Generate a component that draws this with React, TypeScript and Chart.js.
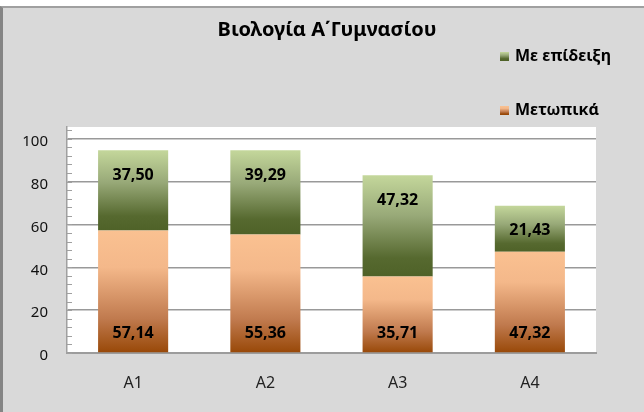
import React, { useEffect, useRef } from "react";
import { Chart, registerables } from "chart.js";

Chart.register(...registerables);

const categories = ["A1", "A2", "A3", "A4"];
const frontalValues = [57.14, 55.36, 35.71, 47.32];
const demoValues = [37.5, 39.29, 47.32, 21.43];
const seriesNames = ["Μετωπικά", "Με επίδειξη"];
const yMajorTicks = [0, 20, 40, 60, 80, 100];
const titleText = "Βιολογία Α΄Γυμνασίου";

const FONT = "'Noto Sans', sans-serif";
const orangeStops: [number, string][] = [
  [0, "#fac191"],
  [0.3, "#f4b88a"],
  [0.72, "#c07a4e"],
  [1, "#984807"],
];
const greenStops: [number, string][] = [
  [0, "#c4d79b"],
  [0.4, "#98a978"],
  [0.82, "#56692f"],
  [1, "#4f6228"],
];

function makeGrad(ctx: CanvasRenderingContext2D, y0: number, y1: number, stops: [number, string][]) {
  const g = ctx.createLinearGradient(0, y0, 0, y1);
  stops.forEach(([o, c]) => g.addColorStop(o, c));
  return g;
}

function barGradient(stops: [number, string][]) {
  return (c: any) => {
    const chart = c.chart;
    if (!chart.chartArea || c.type !== "data" || !chart.scales.y) return stops[0][1];
    const di = c.datasetIndex;
    const i = c.dataIndex;
    let start = 0;
    for (let d = 0; d < di; d++) start += chart.data.datasets[d].data[i] as number;
    const end = start + (chart.data.datasets[di].data[i] as number);
    const yTop = chart.scales.y.getPixelForValue(end);
    const yBot = chart.scales.y.getPixelForValue(start);
    return makeGrad(chart.ctx, yTop, yBot, stops);
  };
}

const decorPlugin = {
  id: "decor",
  beforeDraw(chart: any) {
    const { ctx, chartArea } = chart;
    ctx.save();
    ctx.fillStyle = "#ffffff";
    ctx.fillRect(chartArea.left, chartArea.top, chartArea.right - chartArea.left, chartArea.bottom - chartArea.top);
    ctx.restore();
  },
  afterDraw(chart: any) {
    const { ctx, chartArea } = chart;
    const y = chart.scales.y;
    ctx.save();
    // minor inner ticks
    ctx.strokeStyle = "#a0a0a0";
    ctx.lineWidth = 1;
    for (let v = 0; v <= 104; v += 4) {
      const py = Math.round(y.getPixelForValue(v)) + 0.5;
      ctx.beginPath();
      ctx.moveTo(chartArea.left, py);
      ctx.lineTo(chartArea.left + 5, py);
      ctx.stroke();
    }
    // title
    ctx.fillStyle = "#000";
    ctx.font = `bold 20px ${FONT}`;
    ctx.textAlign = "center";
    ctx.textBaseline = "middle";
    ctx.fillText(titleText, 327, 30);
    // legend
    const legendItems = [
      { name: seriesNames[1], stops: greenStops, y: 56 },
      { name: seriesNames[0], stops: orangeStops, y: 110 },
    ];
    legendItems.forEach((it) => {
      ctx.fillStyle = makeGrad(ctx, it.y - 4, it.y + 4, it.stops);
      ctx.fillRect(500, it.y - 4, 9, 9);
      ctx.fillStyle = "#000";
      ctx.font = `bold 16px ${FONT}`;
      ctx.textAlign = "left";
      ctx.textBaseline = "middle";
      ctx.fillText(it.name, 515, it.y);
    });
    // data labels
    ctx.font = `bold 16px ${FONT}`;
    ctx.textAlign = "center";
    ctx.textBaseline = "middle";
    ctx.fillStyle = "#000";
    chart.data.datasets.forEach((ds: any, di: number) => {
      const meta = chart.getDatasetMeta(di);
      meta.data.forEach((el: any, i: number) => {
        const txt = (ds.data[i] as number).toFixed(2).replace(".", ",");
        const ly = di === 0 ? el.base - 19 : el.y + 25;
        ctx.fillText(txt, el.x, ly);
      });
    });
    ctx.restore();
  },
};

export default function App() {
  const ref = useRef<HTMLCanvasElement | null>(null);
  useEffect(() => {
    if (!ref.current) return;
    const chart = new Chart(ref.current, {
      type: "bar",
      data: {
        labels: categories,
        datasets: [
          {
            label: seriesNames[0],
            data: frontalValues,
            backgroundColor: barGradient(orangeStops),
            borderWidth: 0,
            categoryPercentage: 1,
            barPercentage: 0.53,
          },
          {
            label: seriesNames[1],
            data: demoValues,
            backgroundColor: barGradient(greenStops),
            borderWidth: 0,
            categoryPercentage: 1,
            barPercentage: 0.53,
          },
        ],
      },
      options: {
        responsive: false,
        animation: false,
        layout: { padding: { left: 0, top: 127, right: 48, bottom: 0 } },
        plugins: { legend: { display: false }, title: { display: false }, tooltip: { enabled: false } },
        scales: {
          x: {
            stacked: true,
            grid: { display: false, drawTicks: false },
            border: { color: "#9c9c9c", width: 2 },
            ticks: { padding: 21, color: "#222", font: { family: FONT, size: 16 } },
            afterFit: (s: any) => {
              s.height = 59;
            },
          },
          y: {
            stacked: true,
            min: 0,
            max: 105.5,
            afterBuildTicks: (s: any) => {
              s.ticks = yMajorTicks.map((v) => ({ value: v }));
            },
            grid: { color: "#999999", lineWidth: 1.6, drawTicks: false },
            border: { color: "#a0a0a0", width: 1.5 },
            ticks: { padding: 19, labelOffset: 3, color: "#111", font: { family: FONT, size: 15 }, autoSkip: false },
            afterFit: (s: any) => {
              s.width = 67;
            },
          },
        },
      },
      plugins: [decorPlugin],
    });
    return () => chart.destroy();
  }, []);

  return (
    <div style={{ position: "absolute", left: 0, top: 0, width: 644, height: 412, background: "#fff" }}>
      <div
        style={{
          position: "absolute",
          left: 0,
          top: 6,
          width: 644,
          height: 406,
          background: "#d9d9d9",
          borderLeft: "3px solid #858585",
          borderTop: "2px solid #a0a0a0",
          boxSizing: "border-box",
        }}
      />
      <canvas ref={ref} width={644} height={412} style={{ position: "absolute", left: 0, top: 0, width: 644, height: 412 }} />
    </div>
  );
}
